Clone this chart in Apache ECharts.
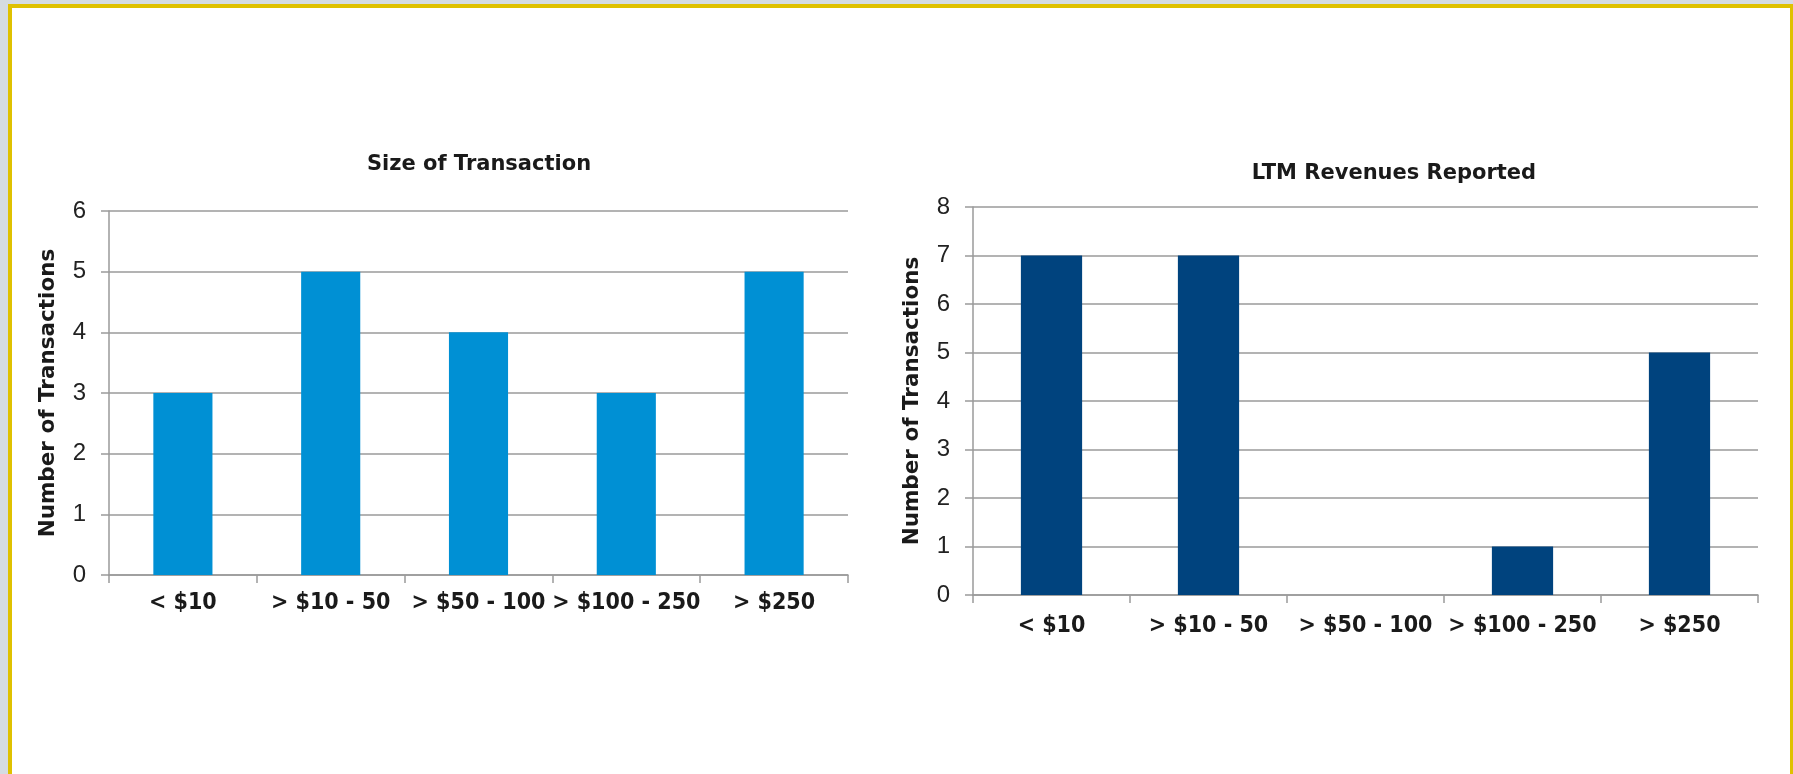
<!DOCTYPE html>
<html>
<head>
<meta charset="utf-8">
<script src="https://cdn.jsdelivr.net/npm/echarts@6/dist/echarts.min.js"></script>
<style>
  html, body { margin: 0; padding: 0; width: 1793px; height: 774px; overflow: hidden; background: #d5dce2; }
  #frame { position: absolute; left: 8px; top: 4px; width: 1778px; height: 800px; border: 4px solid #dfc100; background: #fff; }
  #main { position: absolute; left: 0; top: 0; width: 1793px; height: 774px; }
</style>
</head>
<body>
<div id="frame"></div>
<div id="main"></div>
<script>
var myChart = echarts.init(document.getElementById('main'));

// bucket labels shared by both charts
const categories = ['< $10', '> $10 - 50', '> $50 - 100', '> $100 - 250', '> $250']
// number of transactions per size bucket
const sizeCounts = [3, 5, 4, 3, 5]
// number of transactions per LTM revenue bucket
const revenueCounts = [7, 7, 0, 1, 5]

const gridColor = '#9a9a9a'
const boldFont = '"DejaVu Sans", sans-serif'
const condFont = '"DejaVu Sans Condensed", "DejaVu Sans", sans-serif'

function valueAxis(idx, max, gap) {
    return {
        gridIndex: idx,
        type: 'value',
        min: 0,
        max: max,
        interval: 1,
        name: 'Number of Transactions',
        nameLocation: 'middle',
        nameGap: gap,
        nameTextStyle: {
            fontFamily: boldFont,
            fontWeight: 'bold',
            fontSize: 21.5,
            color: '#1a1a1a'
        },
        axisLine: { show: true, lineStyle: { color: gridColor, width: 1.5 } },
        axisTick: { show: true, length: 8, lineStyle: { color: gridColor, width: 1.5 } },
        splitLine: { show: true, lineStyle: { color: gridColor, width: 1.5 } },
        axisLabel: {
            margin: 23,
            fontFamily: '"Liberation Sans", Arial, sans-serif',
            fontSize: 24,
            color: '#222'
        }
    }
}

function catAxis(idx, margin) {
    return {
        gridIndex: idx,
        type: 'category',
        data: categories,
        axisLine: { lineStyle: { color: gridColor, width: 1.5 } },
        axisTick: { show: true, length: 8, lineStyle: { color: gridColor, width: 1.5 } },
        axisLabel: {
            margin: margin,
            interval: 0,
            fontFamily: condFont,
            fontWeight: 'bold',
            fontSize: 23,
            color: '#1a1a1a'
        }
    }
}

option = {
    animation: false,
    title: [{
        text: 'Size of Transaction',
        left: 474,
        top: 149,
        textAlign: 'center',
        textStyle: { fontFamily: boldFont, fontWeight: 'bold', fontSize: 21, color: '#1a1a1a' }
    }, {
        text: 'LTM Revenues Reported',
        left: 1389,
        top: 158,
        textAlign: 'center',
        textStyle: { fontFamily: boldFont, fontWeight: 'bold', fontSize: 21, color: '#1a1a1a' }
    }],
    grid: [
        { left: 109, top: 211, width: 739, height: 364 },
        { left: 973, top: 207, width: 785, height: 388 }
    ],
    xAxis: [catAxis(0, 17), catAxis(1, 20)],
    yAxis: [valueAxis(0, 6, 50), valueAxis(1, 8, 50)],
    series: [
        {
            type: 'bar',
            xAxisIndex: 0,
            yAxisIndex: 0,
            data: sizeCounts,
            barWidth: '40%',
            itemStyle: { color: '#0090d4' }
        },
        {
            type: 'bar',
            xAxisIndex: 1,
            yAxisIndex: 1,
            data: revenueCounts,
            barWidth: '39%',
            itemStyle: { color: '#00437e' }
        }
    ]
};

myChart.setOption(option)
</script>
</body>
</html>
